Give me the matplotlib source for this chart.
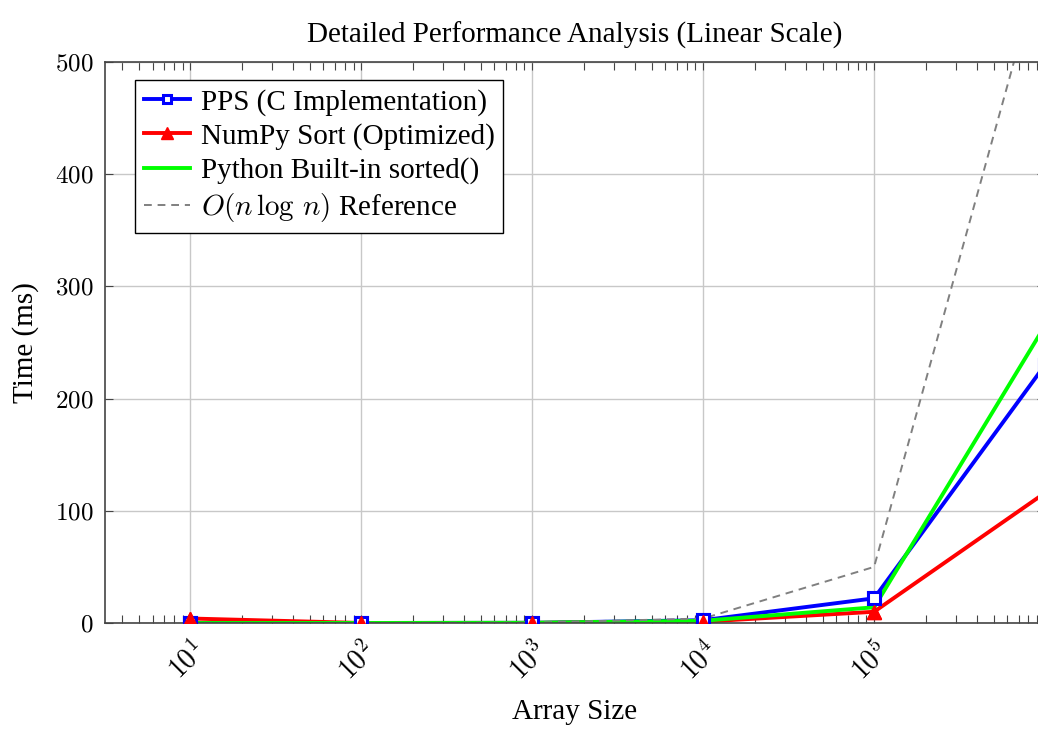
import numpy as np
import matplotlib.pyplot as plt
from matplotlib.ticker import LogLocator, NullFormatter

plt.rcParams['font.family'] = ['Liberation Serif', 'DejaVu Serif']
plt.rcParams['mathtext.fontset'] = 'cm'

# Data
sizes = [10, 100, 1000, 10000, 100000, 1000000]
pps_ms = [0.01, 0.02, 0.15, 2.5, 22, 230]
numpy_ms = [4, 0.05, 0.1, 1.2, 10, 116]
python_ms = [0.005, 0.02, 0.2, 2, 14, 265]
ref_ms = [0.001, 0.02, 0.3, 4, 50, 600]
y_ticks = [0, 100, 200, 300, 400, 500]
x_ticks = [10, 100, 1000, 10000, 100000]

W, H = 1038, 731
fig = plt.figure(figsize=(W / 100, H / 100), dpi=100)
# axis box runs from x=105 to x=1045 px, slightly past the image edge
ax = fig.add_axes([105 / W, 1 - 623 / H, (1045 - 105) / W, (623 - 62) / H])

pps_style = dict(marker='s', ms=8, mfc='white', mec='#0000ff', mew=2.2)
numpy_style = dict(marker='^', ms=10, mfc='#ff0000', mec='#ff0000')

ax.plot(sizes, pps_ms, color='#0000ff', lw=2.8, label='PPS (C Implementation)',
        **pps_style)
ax.plot(sizes, numpy_ms, color='#ff0000', lw=2.8, label='NumPy Sort (Optimized)',
        **numpy_style)
ax.plot(sizes, python_ms, color='#00ff00', lw=2.8,
        label='Python Built-in sorted()')
ax.plot(sizes, ref_ms, color='#808080', lw=1.4, ls=(0, (4, 3)),
        label=r'$O(n\,\log\,n)$ Reference')

# markers again on top of all lines
ax.plot(sizes, pps_ms, ls='none', zorder=5, **pps_style)
ax.plot(sizes, numpy_ms, ls='none', zorder=5, **numpy_style)

ax.set_xscale('log')
ax.set_xlim(10 ** 0.5, 10 ** 6)
ax.set_ylim(0, 500)
ax.set_yticks(y_ticks)
ax.set_yticklabels([f'${v}$' for v in y_ticks], fontsize=18)
ax.xaxis.set_minor_locator(LogLocator(base=10, subs=np.arange(2, 10), numticks=20))
ax.xaxis.set_minor_formatter(NullFormatter())
ax.set_xticks(x_ticks)
ax.set_xticklabels([rf'$10^{{{int(np.log10(v))}}}$' for v in x_ticks], fontsize=20)

ax.grid(True, which='major', color='#c8c8c8', lw=1)
ax.tick_params(which='both', direction='in', top=True, right=True,
               color='#444444')
ax.tick_params(which='major', length=6)
ax.tick_params(which='minor', length=6, width=0.8)
plt.setp(ax.get_xticklabels(), rotation=45, ha='right', va='top',
         rotation_mode='anchor')
ax.tick_params(axis='x', pad=10)
ax.tick_params(axis='y', pad=8)
for s in ax.spines.values():
    s.set_color('#444444')
    s.set_linewidth(1.2)

ax.set_title('Detailed Performance Analysis (Linear Scale)', fontsize=21, pad=14)
ax.set_xlabel('Array Size', fontsize=21, labelpad=10)
ax.set_ylabel('Time (ms)', fontsize=21, labelpad=12)

leg = ax.legend(loc='upper left', fontsize=21, frameon=True, fancybox=False,
                edgecolor='black', framealpha=1, borderpad=0.3,
                borderaxespad=0, handlelength=1.6, handletextpad=0.35,
                labelspacing=0.25, markerscale=0.8,
                bbox_to_anchor=(30 / 940, 1 - 18 / 561))
leg.get_frame().set_linewidth(1.0)
leg.set_zorder(10)

plt.savefig('out.png', dpi=100)
plt.close()
